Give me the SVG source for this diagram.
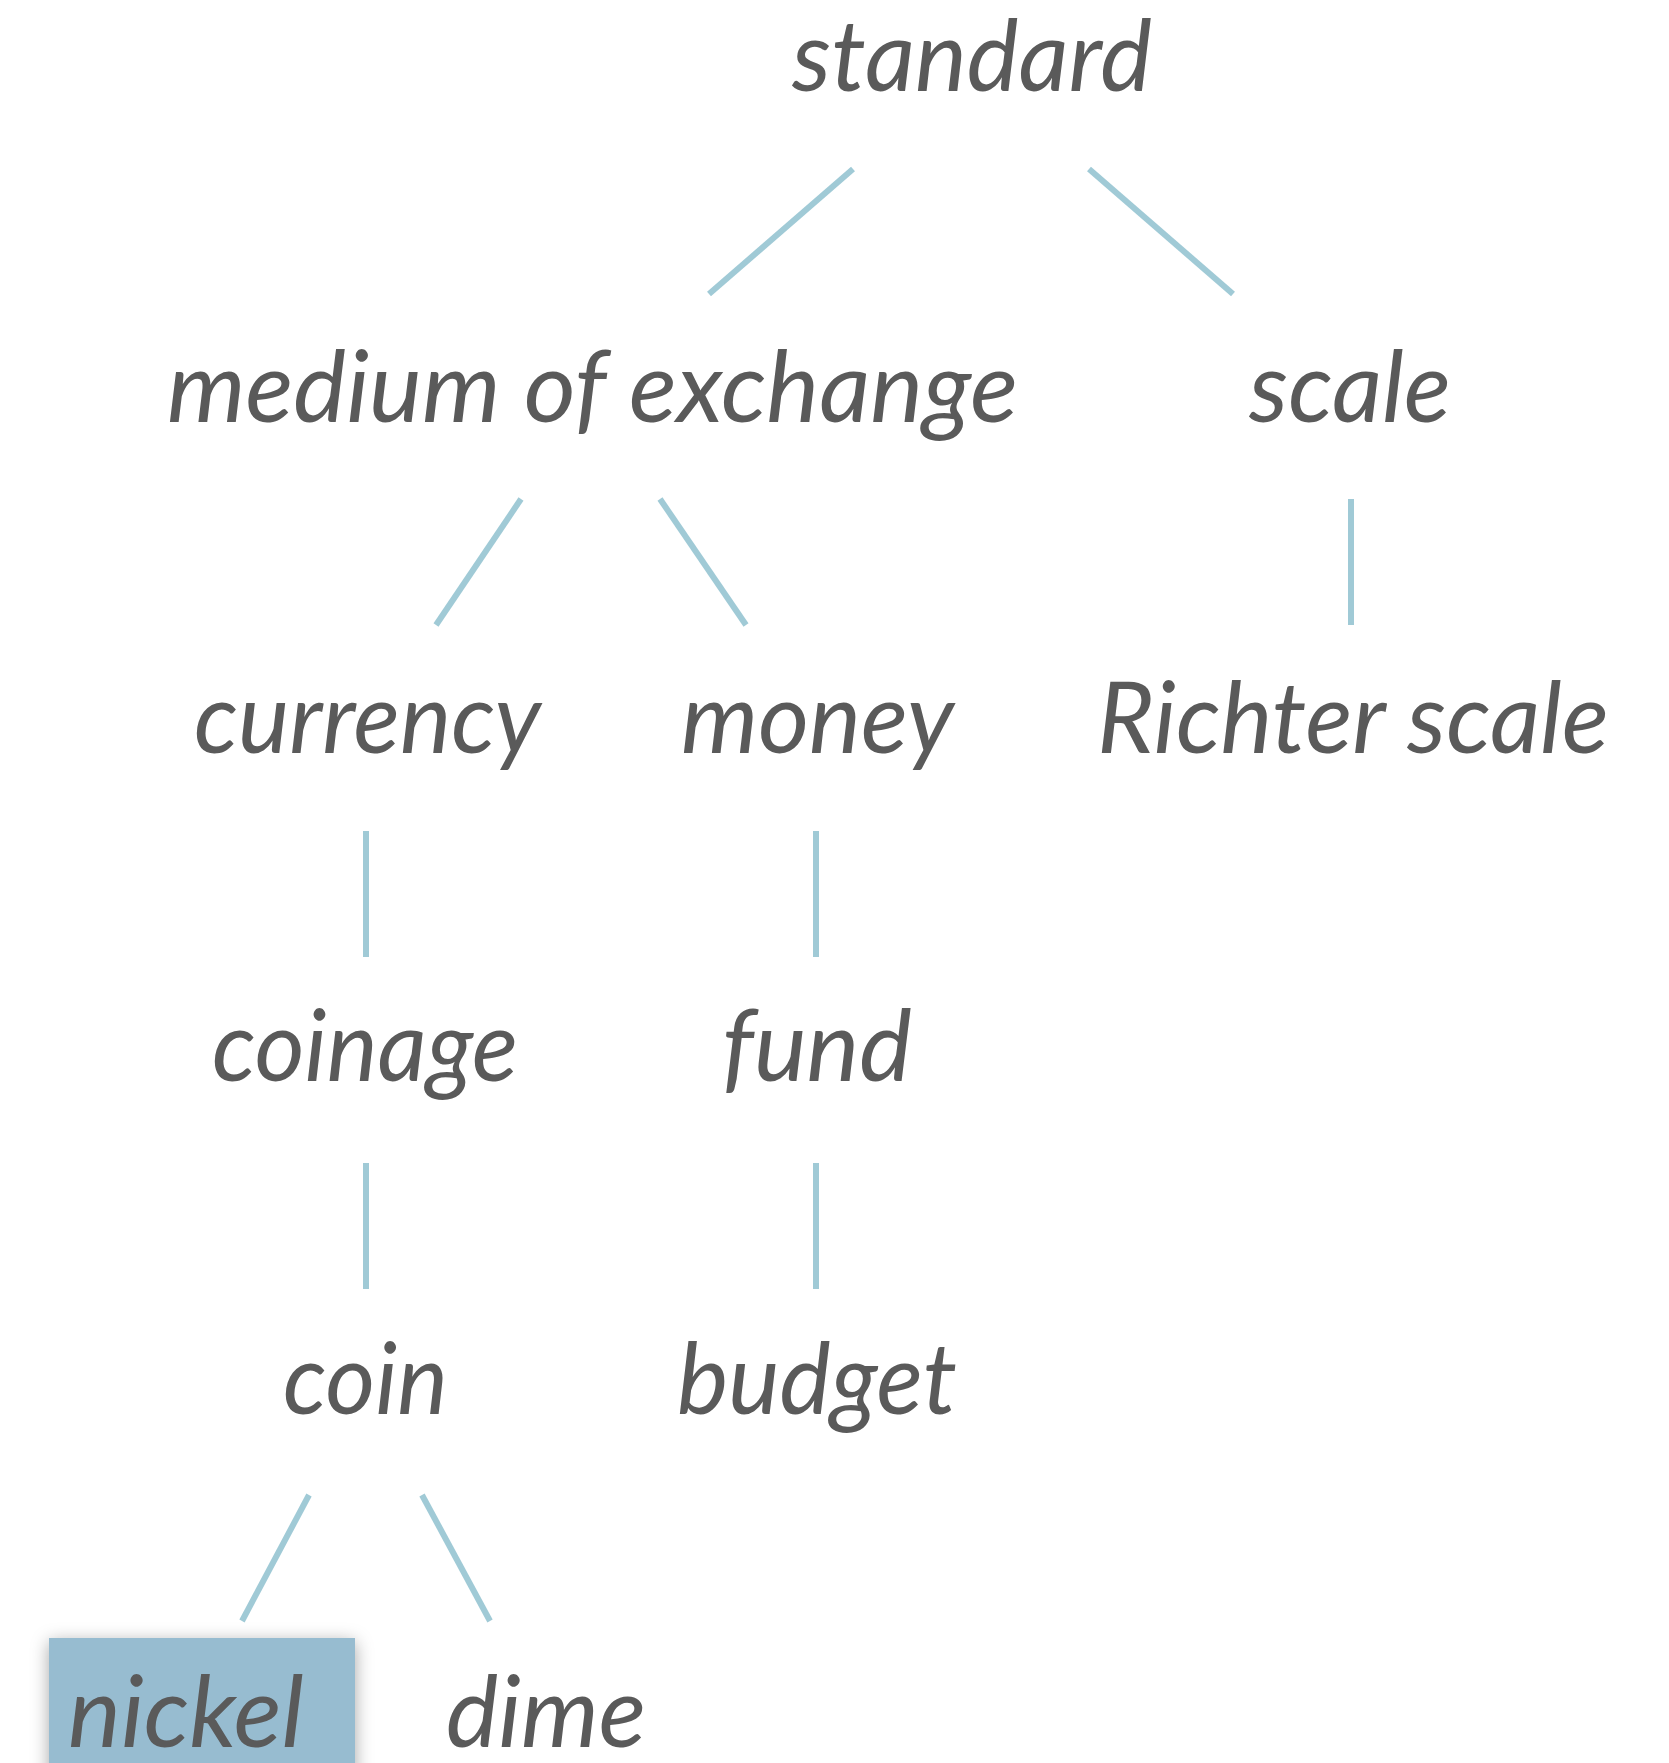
<svg xmlns="http://www.w3.org/2000/svg" width="1669" height="1763" viewBox="0 0 1669 1763">
  <style>
    .lbl { font-family: Lato, "Open Sans", "Liberation Sans", sans-serif; font-style: italic; font-size: 100px; fill: #5a5a5a; }
    .edge { stroke: #a0cad6; stroke-width: 6; fill: none; }
  </style>
  <defs>
    <filter id="shadow" x="-20%" y="-20%" width="140%" height="140%">
      <feDropShadow dx="0" dy="4" stdDeviation="9" flood-color="#000" flood-opacity="0.35"/>
    </filter>
  </defs>
  <rect width="1669" height="1763" fill="#fff"/>

  <!-- connectors between terms -->
  <g id="connectors">
    <line class="edge" x1="853" y1="169" x2="709" y2="294"/>
    <line class="edge" x1="1089" y1="169" x2="1233" y2="294"/>
    <line class="edge" x1="521" y1="499" x2="436" y2="625"/>
    <line class="edge" x1="660" y1="499" x2="746" y2="625"/>
    <line class="edge" x1="1351" y1="499" x2="1351" y2="625"/>
    <line class="edge" x1="366" y1="831" x2="366" y2="957"/>
    <line class="edge" x1="816" y1="831" x2="816" y2="957"/>
    <line class="edge" x1="366" y1="1163" x2="366" y2="1289"/>
    <line class="edge" x1="816" y1="1163" x2="816" y2="1289"/>
    <line class="edge" x1="309" y1="1495" x2="242" y2="1621"/>
    <line class="edge" x1="422" y1="1495" x2="490" y2="1621"/>
  </g>

  <g id="node-standard"><text class="lbl" x="792" y="91" textLength="360" lengthAdjust="spacingAndGlyphs">standard</text></g>
  <g id="node-medium-of-exchange"><text class="lbl" x="167" y="422" textLength="851" lengthAdjust="spacingAndGlyphs">medium of exchange</text></g>
  <g id="node-scale"><text class="lbl" x="1249" y="422" textLength="202" lengthAdjust="spacingAndGlyphs">scale</text></g>
  <g id="node-currency"><text class="lbl" x="194" y="753" textLength="347" lengthAdjust="spacingAndGlyphs">currency</text></g>
  <g id="node-money"><text class="lbl" x="681" y="753" textLength="273" lengthAdjust="spacingAndGlyphs">money</text></g>
  <g id="node-richter-scale"><text class="lbl" x="1097" y="753" textLength="512" lengthAdjust="spacingAndGlyphs">Richter scale</text></g>
  <g id="node-coinage"><text class="lbl" x="212" y="1081" textLength="306" lengthAdjust="spacingAndGlyphs">coinage</text></g>
  <g id="node-fund"><text class="lbl" x="722" y="1081" textLength="190" lengthAdjust="spacingAndGlyphs">fund</text></g>
  <g id="node-coin"><text class="lbl" x="283" y="1414" textLength="165" lengthAdjust="spacingAndGlyphs">coin</text></g>
  <g id="node-budget"><text class="lbl" x="677" y="1414" textLength="280" lengthAdjust="spacingAndGlyphs">budget</text></g>
  <g id="node-nickel">
    <rect x="49" y="1638" width="306" height="140" fill="#97bcd0" filter="url(#shadow)"/>
    <text class="lbl" x="68" y="1747" textLength="236" lengthAdjust="spacingAndGlyphs">nickel</text>
  </g>
  <g id="node-dime"><text class="lbl" x="446" y="1747" textLength="200" lengthAdjust="spacingAndGlyphs">dime</text></g>
</svg>
